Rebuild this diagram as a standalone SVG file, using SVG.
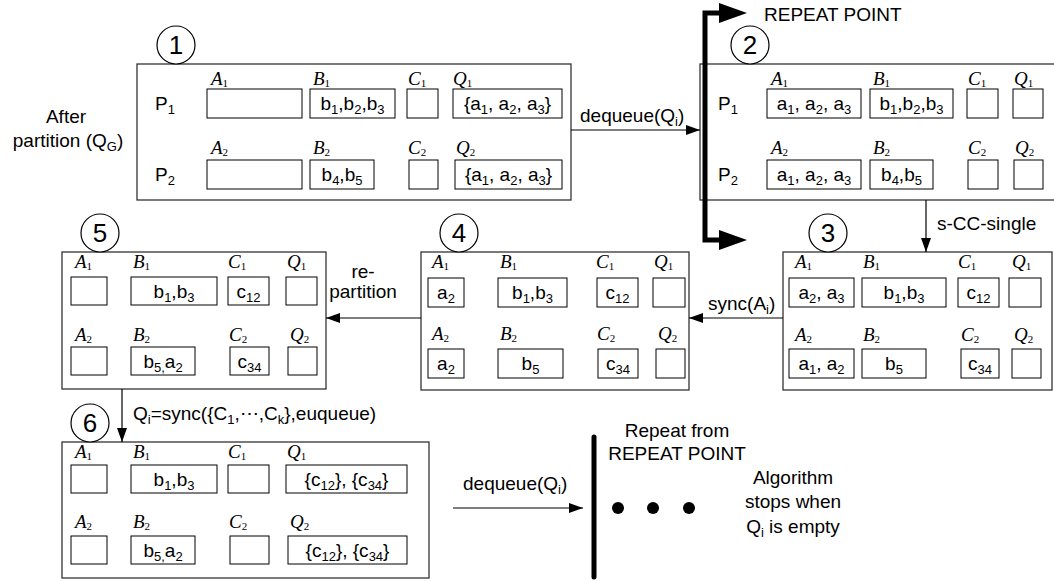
<svg xmlns="http://www.w3.org/2000/svg" width="1054" height="581" viewBox="0 0 1054 581">
<defs>
<style>
.t{font-family:"Liberation Sans",Arial,sans-serif;font-size:19px;fill:#000}
.c{text-anchor:middle}
.s{font-size:13px}
.l{font-family:"Liberation Serif","Times New Roman",serif;font-style:italic;font-size:19px;fill:#000}
.ls{font-style:normal;font-size:11px}
.box{fill:#fff;stroke:#000;stroke-width:1}
.frame{fill:#fff;stroke:#333;stroke-width:1.3}
.num{fill:#fff;stroke:#000;stroke-width:1.2}
.nt{font-family:"Liberation Sans",Arial,sans-serif;font-size:26px;text-anchor:middle}
.ln{fill:none;stroke:#000;stroke-width:1.2}
.thick{fill:none;stroke:#000;stroke-width:5}
</style>
<marker id="ah" markerUnits="userSpaceOnUse" markerWidth="14" markerHeight="10" refX="14" refY="5" orient="auto">
<path d="M0,0 L14,5 L0,10 z" fill="#000"/>
</marker>
</defs>
<rect width="1054" height="581" fill="#fff"/>

<g id="after-label">
<text class="t c" x="66" y="123">After</text>
<text class="t c" x="68" y="147">partition (Q<tspan class="s" dy="4">G</tspan><tspan dy="-4">)</tspan></text>
</g>

<g id="node1">
<rect class="frame" x="137" y="64" width="434" height="136"/>
<circle class="num" cx="176" cy="45" r="19"/>
<text class="nt" x="176" y="54">1</text>
<text class="t" x="155" y="110">P<tspan class="s" dy="4">1</tspan></text>
<text class="t" x="155" y="181">P<tspan class="s" dy="4">2</tspan></text>
<text class="l" x="211" y="85">A<tspan class="ls" dy="2">1</tspan></text>
<text class="l" x="313" y="85">B<tspan class="ls" dy="2">1</tspan></text>
<text class="l" x="408" y="85">C<tspan class="ls" dy="2">1</tspan></text>
<text class="l" x="453" y="85">Q<tspan class="ls" dy="2">1</tspan></text>
<text class="l" x="211" y="154">A<tspan class="ls" dy="2">2</tspan></text>
<text class="l" x="313" y="154">B<tspan class="ls" dy="2">2</tspan></text>
<text class="l" x="408" y="154">C<tspan class="ls" dy="2">2</tspan></text>
<text class="l" x="456" y="154">Q<tspan class="ls" dy="2">2</tspan></text>
<rect class="box" x="207" y="89" width="95" height="29"/>
<rect class="box" x="310" y="89" width="85" height="29"/>
<rect class="box" x="407" y="89" width="31" height="29"/>
<rect class="box" x="453" y="89" width="109" height="29"/>
<rect class="box" x="207" y="160" width="95" height="29"/>
<rect class="box" x="310" y="160" width="64" height="29"/>
<rect class="box" x="409" y="160" width="29" height="29"/>
<rect class="box" x="455" y="160" width="107" height="29"/>
<text class="t c" x="352.5" y="110">b<tspan class="s" dy="4">1</tspan><tspan dy="-4">,b</tspan><tspan class="s" dy="4">2</tspan><tspan dy="-4">,b</tspan><tspan class="s" dy="4">3</tspan></text>
<text class="t c" x="507.5" y="110">{a<tspan class="s" dy="4">1</tspan><tspan dy="-4">, a</tspan><tspan class="s" dy="4">2</tspan><tspan dy="-4">, a</tspan><tspan class="s" dy="4">3</tspan><tspan dy="-4">}</tspan></text>
<text class="t c" x="342" y="181">b<tspan class="s" dy="4">4</tspan><tspan dy="-4">,b</tspan><tspan class="s" dy="4">5</tspan></text>
<text class="t c" x="508.5" y="181">{a<tspan class="s" dy="4">1</tspan><tspan dy="-4">, a</tspan><tspan class="s" dy="4">2</tspan><tspan dy="-4">, a</tspan><tspan class="s" dy="4">3</tspan><tspan dy="-4">}</tspan></text>
</g>

<g id="node2">
<rect class="frame" x="700" y="64" width="420" height="136"/>
<circle class="num" cx="750" cy="45" r="19"/>
<text class="nt" x="750" y="54">2</text>
<text class="t" x="718" y="110">P<tspan class="s" dy="4">1</tspan></text>
<text class="t" x="718" y="181">P<tspan class="s" dy="4">2</tspan></text>
<text class="l" x="771" y="85">A<tspan class="ls" dy="2">1</tspan></text>
<text class="l" x="873" y="85">B<tspan class="ls" dy="2">1</tspan></text>
<text class="l" x="968" y="85">C<tspan class="ls" dy="2">1</tspan></text>
<text class="l" x="1014" y="85">Q<tspan class="ls" dy="2">1</tspan></text>
<text class="l" x="771" y="154">A<tspan class="ls" dy="2">2</tspan></text>
<text class="l" x="873" y="154">B<tspan class="ls" dy="2">2</tspan></text>
<text class="l" x="968" y="154">C<tspan class="ls" dy="2">2</tspan></text>
<text class="l" x="1015" y="154">Q<tspan class="ls" dy="2">2</tspan></text>
<rect class="box" x="767" y="89" width="94" height="29"/>
<rect class="box" x="870" y="89" width="83" height="29"/>
<rect class="box" x="967" y="89" width="31" height="29"/>
<rect class="box" x="1013" y="89" width="30" height="29"/>
<rect class="box" x="767" y="160" width="94" height="29"/>
<rect class="box" x="870" y="160" width="63" height="29"/>
<rect class="box" x="968" y="160" width="30" height="29"/>
<rect class="box" x="1014" y="160" width="29" height="29"/>
<text class="t c" x="814" y="110">a<tspan class="s" dy="4">1</tspan><tspan dy="-4">, a</tspan><tspan class="s" dy="4">2</tspan><tspan dy="-4">, a</tspan><tspan class="s" dy="4">3</tspan></text>
<text class="t c" x="911.5" y="110">b<tspan class="s" dy="4">1</tspan><tspan dy="-4">,b</tspan><tspan class="s" dy="4">2</tspan><tspan dy="-4">,b</tspan><tspan class="s" dy="4">3</tspan></text>
<text class="t c" x="814" y="181">a<tspan class="s" dy="4">1</tspan><tspan dy="-4">, a</tspan><tspan class="s" dy="4">2</tspan><tspan dy="-4">, a</tspan><tspan class="s" dy="4">3</tspan></text>
<text class="t c" x="901.5" y="181">b<tspan class="s" dy="4">4</tspan><tspan dy="-4">,b</tspan><tspan class="s" dy="4">5</tspan></text>
</g>

<g id="node3">
<rect class="frame" x="783" y="252" width="269" height="138"/>
<circle class="num" cx="828" cy="233" r="19"/>
<text class="nt" x="828" y="242">3</text>
<text class="l" x="795" y="268">A<tspan class="ls" dy="2">1</tspan></text>
<text class="l" x="863" y="268">B<tspan class="ls" dy="2">1</tspan></text>
<text class="l" x="958" y="268">C<tspan class="ls" dy="2">1</tspan></text>
<text class="l" x="1012" y="268">Q<tspan class="ls" dy="2">1</tspan></text>
<text class="l" x="795" y="341">A<tspan class="ls" dy="2">2</tspan></text>
<text class="l" x="863" y="341">B<tspan class="ls" dy="2">2</tspan></text>
<text class="l" x="961" y="341">C<tspan class="ls" dy="2">2</tspan></text>
<text class="l" x="1014" y="341">Q<tspan class="ls" dy="2">2</tspan></text>
<rect class="box" x="789" y="278" width="65" height="29"/>
<rect class="box" x="862" y="278" width="84" height="29"/>
<rect class="box" x="958" y="278" width="41" height="29"/>
<rect class="box" x="1009" y="278" width="32" height="29"/>
<rect class="box" x="789" y="349" width="65" height="29"/>
<rect class="box" x="862" y="349" width="64" height="29"/>
<rect class="box" x="961" y="349" width="38" height="29"/>
<rect class="box" x="1012" y="349" width="29" height="29"/>
<text class="t c" x="821.5" y="299">a<tspan class="s" dy="4">2</tspan><tspan dy="-4">, a</tspan><tspan class="s" dy="4">3</tspan></text>
<text class="t c" x="904" y="299">b<tspan class="s" dy="4">1</tspan><tspan dy="-4">,b</tspan><tspan class="s" dy="4">3</tspan></text>
<text class="t c" x="978.5" y="299">c<tspan class="s" dy="4">12</tspan></text>
<text class="t c" x="821.5" y="370">a<tspan class="s" dy="4">1</tspan><tspan dy="-4">, a</tspan><tspan class="s" dy="4">2</tspan></text>
<text class="t c" x="894" y="370">b<tspan class="s" dy="4">5</tspan></text>
<text class="t c" x="980" y="370">c<tspan class="s" dy="4">34</tspan></text>
</g>

<g id="node4">
<rect class="frame" x="421" y="252" width="268" height="138"/>
<circle class="num" cx="459" cy="233" r="19"/>
<text class="nt" x="459" y="242">4</text>
<text class="l" x="432" y="268">A<tspan class="ls" dy="2">1</tspan></text>
<text class="l" x="500" y="268">B<tspan class="ls" dy="2">1</tspan></text>
<text class="l" x="596" y="268">C<tspan class="ls" dy="2">1</tspan></text>
<text class="l" x="654" y="268">Q<tspan class="ls" dy="2">1</tspan></text>
<text class="l" x="432" y="340">A<tspan class="ls" dy="2">2</tspan></text>
<text class="l" x="500" y="340">B<tspan class="ls" dy="2">2</tspan></text>
<text class="l" x="597" y="340">C<tspan class="ls" dy="2">2</tspan></text>
<text class="l" x="658" y="340">Q<tspan class="ls" dy="2">2</tspan></text>
<rect class="box" x="428" y="278" width="36" height="29"/>
<rect class="box" x="498" y="278" width="69" height="29"/>
<rect class="box" x="597" y="278" width="41" height="29"/>
<rect class="box" x="653" y="278" width="32" height="29"/>
<rect class="box" x="428" y="349" width="36" height="29"/>
<rect class="box" x="498" y="349" width="65" height="29"/>
<rect class="box" x="598" y="349" width="40" height="29"/>
<rect class="box" x="656" y="349" width="29" height="29"/>
<text class="t c" x="446" y="299">a<tspan class="s" dy="4">2</tspan></text>
<text class="t c" x="532.5" y="299">b<tspan class="s" dy="4">1</tspan><tspan dy="-4">,b</tspan><tspan class="s" dy="4">3</tspan></text>
<text class="t c" x="617.5" y="299">c<tspan class="s" dy="4">12</tspan></text>
<text class="t c" x="446" y="370">a<tspan class="s" dy="4">2</tspan></text>
<text class="t c" x="530.5" y="370">b<tspan class="s" dy="4">5</tspan></text>
<text class="t c" x="618" y="370">c<tspan class="s" dy="4">34</tspan></text>
</g>

<g id="node5">
<rect class="frame" x="62" y="252" width="264" height="137"/>
<circle class="num" cx="100" cy="233" r="19"/>
<text class="nt" x="100" y="242">5</text>
<text class="l" x="75" y="268">A<tspan class="ls" dy="2">1</tspan></text>
<text class="l" x="133" y="268">B<tspan class="ls" dy="2">1</tspan></text>
<text class="l" x="228" y="268">C<tspan class="ls" dy="2">1</tspan></text>
<text class="l" x="287" y="268">Q<tspan class="ls" dy="2">1</tspan></text>
<text class="l" x="75" y="341">A<tspan class="ls" dy="2">2</tspan></text>
<text class="l" x="133" y="341">B<tspan class="ls" dy="2">2</tspan></text>
<text class="l" x="229" y="341">C<tspan class="ls" dy="2">2</tspan></text>
<text class="l" x="290" y="341">Q<tspan class="ls" dy="2">2</tspan></text>
<rect class="box" x="71" y="277" width="36" height="28"/>
<rect class="box" x="131" y="277" width="86" height="28"/>
<rect class="box" x="228" y="277" width="41" height="28"/>
<rect class="box" x="286" y="277" width="31" height="28"/>
<rect class="box" x="71" y="347" width="36" height="28"/>
<rect class="box" x="131" y="347" width="64" height="28"/>
<rect class="box" x="230" y="347" width="39" height="28"/>
<rect class="box" x="288" y="347" width="29" height="28"/>
<text class="t c" x="174" y="298">b<tspan class="s" dy="4">1</tspan><tspan dy="-4">,b</tspan><tspan class="s" dy="4">3</tspan></text>
<text class="t c" x="248.5" y="298">c<tspan class="s" dy="4">12</tspan></text>
<text class="t c" x="163" y="368">b<tspan class="s" dy="4">5,</tspan><tspan dy="-4">a</tspan><tspan class="s" dy="4">2</tspan></text>
<text class="t c" x="249.5" y="368">c<tspan class="s" dy="4">34</tspan></text>
</g>

<g id="node6">
<rect class="frame" x="62" y="442" width="367" height="136"/>
<circle class="num" cx="90" cy="423" r="19"/>
<text class="nt" x="90" y="432">6</text>
<text class="l" x="75" y="458">A<tspan class="ls" dy="2">1</tspan></text>
<text class="l" x="133" y="458">B<tspan class="ls" dy="2">1</tspan></text>
<text class="l" x="228" y="458">C<tspan class="ls" dy="2">1</tspan></text>
<text class="l" x="287" y="458">Q<tspan class="ls" dy="2">1</tspan></text>
<text class="l" x="75" y="528">A<tspan class="ls" dy="2">2</tspan></text>
<text class="l" x="133" y="528">B<tspan class="ls" dy="2">2</tspan></text>
<text class="l" x="229" y="528">C<tspan class="ls" dy="2">2</tspan></text>
<text class="l" x="290" y="528">Q<tspan class="ls" dy="2">2</tspan></text>
<rect class="box" x="71" y="465" width="36" height="28"/>
<rect class="box" x="131" y="465" width="86" height="28"/>
<rect class="box" x="228" y="465" width="41" height="28"/>
<rect class="box" x="286" y="465" width="121" height="28"/>
<rect class="box" x="71" y="536" width="36" height="28"/>
<rect class="box" x="131" y="536" width="64" height="28"/>
<rect class="box" x="230" y="536" width="39" height="28"/>
<rect class="box" x="288" y="536" width="119" height="28"/>
<text class="t c" x="174" y="486">b<tspan class="s" dy="4">1</tspan><tspan dy="-4">,b</tspan><tspan class="s" dy="4">3</tspan></text>
<text class="t c" x="346.5" y="486">{c<tspan class="s" dy="4">12</tspan><tspan dy="-4">}, {c</tspan><tspan class="s" dy="4">34</tspan><tspan dy="-4">}</tspan></text>
<text class="t c" x="163" y="557">b<tspan class="s" dy="4">5,</tspan><tspan dy="-4">a</tspan><tspan class="s" dy="4">2</tspan></text>
<text class="t c" x="347.5" y="557">{c<tspan class="s" dy="4">12</tspan><tspan dy="-4">}, {c</tspan><tspan class="s" dy="4">34</tspan><tspan dy="-4">}</tspan></text>
</g>

<g id="connectors">
<line class="ln" x1="571" y1="130" x2="700" y2="130" marker-end="url(#ah)"/>
<line class="ln" x1="926" y1="200" x2="926" y2="252" marker-end="url(#ah)"/>
<line class="ln" x1="783" y1="318" x2="689" y2="318" marker-end="url(#ah)"/>
<line class="ln" x1="421" y1="318" x2="326" y2="318" marker-end="url(#ah)"/>
<line class="ln" x1="122" y1="389" x2="122" y2="442" marker-end="url(#ah)"/>
<line class="ln" x1="453" y1="508" x2="583" y2="508" marker-end="url(#ah)"/>
<path class="thick" d="M722,13 H705 V240 H722"/>
<path d="M719,3 L747,13 L719,23 z" fill="#000"/>
<path d="M719,230 L747,240 L719,250 z" fill="#000"/>
<text class="t" x="580" y="122">dequeue(Q<tspan class="s" dy="4">i</tspan><tspan dy="-4">)</tspan></text>
<text class="t" x="764" y="21">REPEAT POINT</text>
<text class="t" x="937" y="230">s-CC-single</text>
<text class="t" x="708" y="310">sync(A<tspan class="s" dy="4">i</tspan><tspan dy="-4">)</tspan></text>
<text class="t c" x="363" y="278">re-</text>
<text class="t c" x="363" y="298">partition</text>
<text class="t" x="133" y="420">Q<tspan class="s" dy="4">i</tspan><tspan dy="-4">=sync({C</tspan><tspan class="s" dy="4">1</tspan><tspan dy="-4">,⋯,C</tspan><tspan class="s" dy="4">k</tspan><tspan dy="-4">},euqueue)</tspan></text>
<text class="t" x="463" y="490">dequeue(Q<tspan class="s" dy="4">i</tspan><tspan dy="-4">)</tspan></text>
</g>

<g id="end">
<line x1="594" y1="437" x2="594" y2="577" stroke="#000" stroke-width="5" stroke-linecap="round"/>
<circle cx="618" cy="508" r="6"/>
<circle cx="653" cy="508" r="6"/>
<circle cx="689" cy="508" r="6"/>
<text class="t c" x="677" y="437">Repeat from</text>
<text class="t c" x="677" y="460">REPEAT POINT</text>
<text class="t c" x="793" y="484">Algorithm</text>
<text class="t c" x="793" y="508">stops when</text>
<text class="t c" x="793" y="533">Q<tspan class="s" dy="4">i</tspan><tspan dy="-4"> is empty</tspan></text>
</g>
</svg>
